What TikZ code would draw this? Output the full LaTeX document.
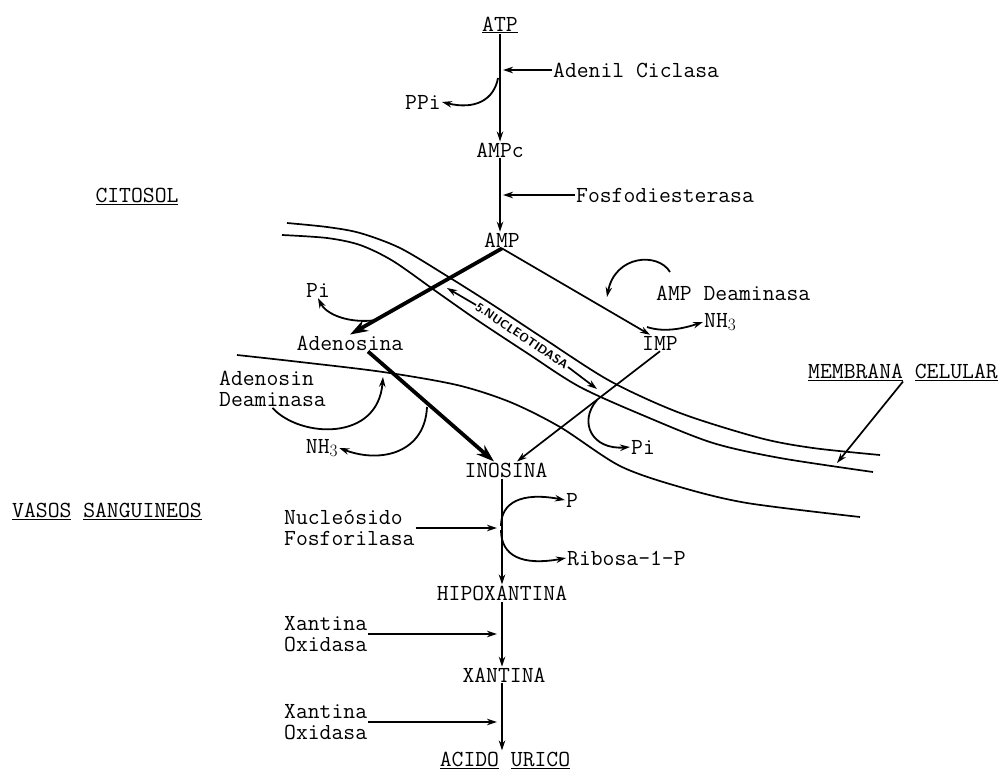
\documentclass[tikz,border=0pt]{standalone}
\usetikzlibrary{arrows.meta}

\newcommand{\tipo}{\fontsize{23}{21}\selectfont\ttfamily}
\newcommand{\rotulo}{\fontsize{12}{12}\selectfont\sffamily\bfseries}

\tikzset{
  metab/.style={font=\tipo,inner sep=1pt},
  enz/.style={font=\tipo,inner sep=1pt,align=left},
  nucleot/.style={font=\rotulo,inner sep=1pt,rotate=-34},
  flecha/.style={line width=1.7pt,-{Stealth[length=10pt,width=6.5pt]}},
  gruesa/.style={line width=3.8pt,-{Stealth[length=18pt,width=12pt]}},
  curva/.style={line width=1.8pt,-{Stealth[length=10pt,width=6.5pt]}},
  membr/.style={line width=1.7pt},
}

\begin{document}
\begin{tikzpicture}[x=1pt,y=-1pt]
  \useasboundingbox (0,0) rectangle (1004,773);
  % membrana celular y vaso
  \draw[membr] plot[smooth] coordinates {(287,223) (327,227) (360,233) (400,248) (447,276) (493,305) (543,338) (610,381) (680,413) (760,438) (813,448) (880,455)};
  \draw[membr] plot[smooth] coordinates {(282,235) (327,238) (360,245) (393,261) (437,292) (477,320) (527,353) (580,387) (647,417) (713,443) (780,458) (873,472)};
  \draw[membr] plot[smooth] coordinates {(237,355) (300,362) (383,372) (457,385) (510,402) (560,427) (620,466) (680,487) (747,503) (860,517)};
  % regiones
  \node[metab] (citosol) at (137,196) {\underline{CITOSOL}};
  \node[metab] (vasos) at (107,511) {\underline{VASOS} \underline{SANGUINEOS}};
  \node[metab] (membrana) at (903,372) {\underline{MEMBRANA} \underline{CELULAR}};
  % metabolitos
  \node[metab] (atp) at (500,25) {\underline{ATP}};
  \node[metab] (ampc) at (500,150) {AMPc};
  \node[metab] (amp) at (502,240) {AMP};
  \node[metab] (adenosina) at (350,343) {Adenosina};
  \node[metab] (imp) at (660,343) {IMP};
  \node[metab] (inosina) at (506,470) {INOSINA};
  \node[metab] (hipox) at (502,593) {HIPOXANTINA};
  \node[metab] (xantina) at (504,675) {XANTINA};
  \node[metab] (urico) at (505,760) {\underline{ACIDO} \underline{URICO}};
  % enzimas
  \node[enz,anchor=west] (adenil) at (552,70) {Adenil Ciclasa};
  \node[enz,anchor=west] (fosfo) at (575,195) {Fosfodiesterasa};
  \node[enz,anchor=west] (ampdeam) at (655,293) {AMP Deaminasa};
  \node[enz,anchor=west] (adeam) at (218,389) {Adenosin\\Deaminasa};
  \node[enz,anchor=west] (nucleo) at (283,528) {Nucle\'osido\\Fosforilasa};
  \node[enz,anchor=west] (xo1) at (283,634) {Xantina\\Oxidasa};
  \node[enz,anchor=west] (xo2) at (283,722) {Xantina\\Oxidasa};
  \node[nucleot] (nucl) at (522,336) {5.NUCLEOTIDASA};
  % productos
  \node[metab] (ppi) at (423,102) {PPi};
  \node[metab] (pi1) at (318,290) {Pi};
  \node[metab] (nh1) at (322,448) {NH$_3$};
  \node[metab,anchor=west] (nh2) at (703,322) {NH$_3$};
  \node[metab,anchor=west] (pi2) at (630,447) {Pi};
  \node[metab] (p) at (572,500) {P};
  \node[metab,anchor=west] (ribosa) at (566,558) {Ribosa-1-P};
  % puntos sobre las flechas
  \coordinate (cppi) at (498,78);
  \coordinate (cpi1) at (377,320);
  \coordinate (cnh1) at (427,407);
  \coordinate (ctip1) at (383,377);
  \coordinate (cdeam) at (670,272);
  \coordinate (ctip2) at (607,297);
  \coordinate (cnh2) at (647,327);
  \coordinate (cpi2) at (597,400);
  \coordinate (cp) at (501,526);
  \coordinate (crib) at (501,530);
  \coordinate (ntip1) at (447,288);
  \coordinate (ntip2) at (597,389);
  \coordinate (mtip) at (837,463);
  % cadena principal
  \draw[flecha] (atp.south -| ampc) -- (ampc.north);
  \draw[flecha] (ampc.south) -- (ampc.south |- amp.north);
  \draw[gruesa] (amp.south) -- (adenosina.north);
  \draw[flecha] (amp.south) -- ([xshift=-10pt]imp.north);
  \draw[gruesa] ([xshift=18pt]adenosina.south) -- ([xshift=-12pt]inosina.north);
  \draw[flecha] (imp.south) -- ([xshift=11pt]inosina.north);
  \draw[flecha] (inosina.south -| hipox) -- (hipox.north);
  \draw[flecha] (hipox.south) -- (hipox.south |- xantina.north);
  \draw[flecha] (xantina.south -| hipox) -- (hipox |- urico.north);
  % enzimas
  \draw[flecha,shorten >=3pt] (adenil.west) -- (adenil.west -| ampc);
  \draw[flecha,shorten >=3pt] (fosfo.west) -- (fosfo.west -| ampc);
  \draw[flecha,shorten >=5pt] (nucleo.east) -- (nucleo.east -| hipox);
  \draw[flecha,shorten >=5pt] (xo1.east) -- (xo1.east -| hipox);
  \draw[flecha,shorten >=5pt] (xo2.east) -- (xo2.east -| hipox);
  \draw[flecha] (nucl.west) -- (ntip1);
  \draw[flecha] (nucl.east) -- (ntip2);
  \draw[flecha] (membrana.south) -- (mtip);
  % reacciones laterales
  \draw[curva] (cppi) .. controls (494,100) and (475,110) .. (ppi.east);
  \draw[curva] (cpi1) .. controls (348,324) and (326,314) .. (pi1.south);
  \draw[curva] (adeam.south) .. controls (300,438) and (378,442) .. (ctip1);
  \draw[curva] (cnh1) .. controls (425,452) and (382,464) .. (nh1.east);
  \draw[curva] (cdeam) .. controls (658,252) and (615,255) .. (ctip2);
  \draw[curva] (cnh2) .. controls (665,333) and (685,328) .. (nh2.west);
  \draw[curva] (cpi2) .. controls (578,422) and (592,450) .. (pi2.west);
  \draw[curva] (cp) .. controls (501,502) and (522,492) .. (p.west);
  \draw[curva] (crib) .. controls (501,556) and (522,566) .. (ribosa.west);
\end{tikzpicture}
\end{document}
